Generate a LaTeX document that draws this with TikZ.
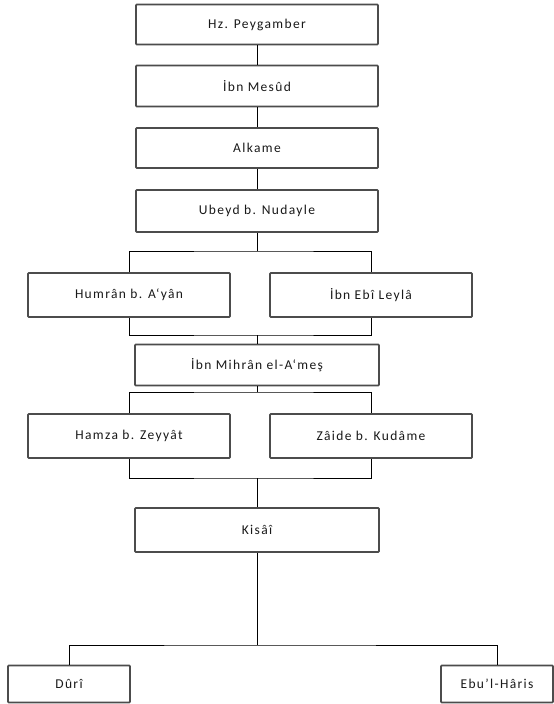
\documentclass[tikz,border=0pt]{standalone}
\usepackage{fontspec}
\setmainfont{Carlito}[LetterSpace=10]
\begin{document}
\begin{tikzpicture}[x=1pt,y=-1pt,
  box/.style={draw=black!70, line width=1.8pt, rounded corners=0.8pt, fill=white,
    inner sep=0pt, font=\fontsize{13.5}{15}\selectfont, text=black!90},
  wide/.style={box, minimum width=242pt, minimum height=40pt},
  mid/.style={box, minimum width=202pt, minimum height=44pt},
  small/.style={box, minimum height=37pt},
  link/.style={draw=black, line width=0.9pt}]
\useasboundingbox (0,0) rectangle (554,704);
\node[wide] (P) at (257,24.5) {Hz. Peygamber};
\node[wide, minimum height=41pt] (M) at (257,86) {İbn Mesûd};
\node[wide] (A) at (257,148) {Alkame};
\node[wide, minimum height=42pt] (U) at (257,211) {Ubeyd b. Nudayle};
\node[mid] (H) at (129,295) {Humrân b. A‘yân};
\node[mid] (L) at (371,295) {İbn Ebî Leylâ};
\node[wide, minimum width=244pt, minimum height=41pt] (IM) at (257,365) {İbn Mihrân el-A‘meş};
\node[mid] (HZ) at (129,436) {Hamza b. Zeyyât};
\node[mid] (Z) at (371,436) {Zâide b. Kudâme};
\node[wide, minimum width=244pt, minimum height=44pt] (K) at (257,530) {Kisâî};
\node[small, minimum width=122pt] (D) at (69,684) {Dûrî};
\node[small, minimum width=112pt] (E) at (497,684) {Ebu’l-Hâris};
\coordinate (u1) at (257,251);
\coordinate (m1) at (257,335);
\coordinate (i1) at (257,392);
\coordinate (h1) at (257,478);
\coordinate (k1) at (257,645);
\draw[link] (P) -- (M);
\draw[link] (M) -- (A);
\draw[link] (A) -- (U);
\draw[link] (U) -- (u1);
\draw[link] (H.north) |- (u1) -| (L.north);
\draw[link] (H.south) |- (m1) -| (L.south);
\draw[link] (m1) -- (IM);
\draw[link] (IM) -- (i1);
\draw[link] (HZ.north) |- (i1) -| (Z.north);
\draw[link] (HZ.south) |- (h1) -| (Z.south);
\draw[link] (h1) -- (K);
\draw[link] (K) -- (k1);
\draw[link] (D.north) |- (k1) -| (E.north);
\end{tikzpicture}
\end{document}
